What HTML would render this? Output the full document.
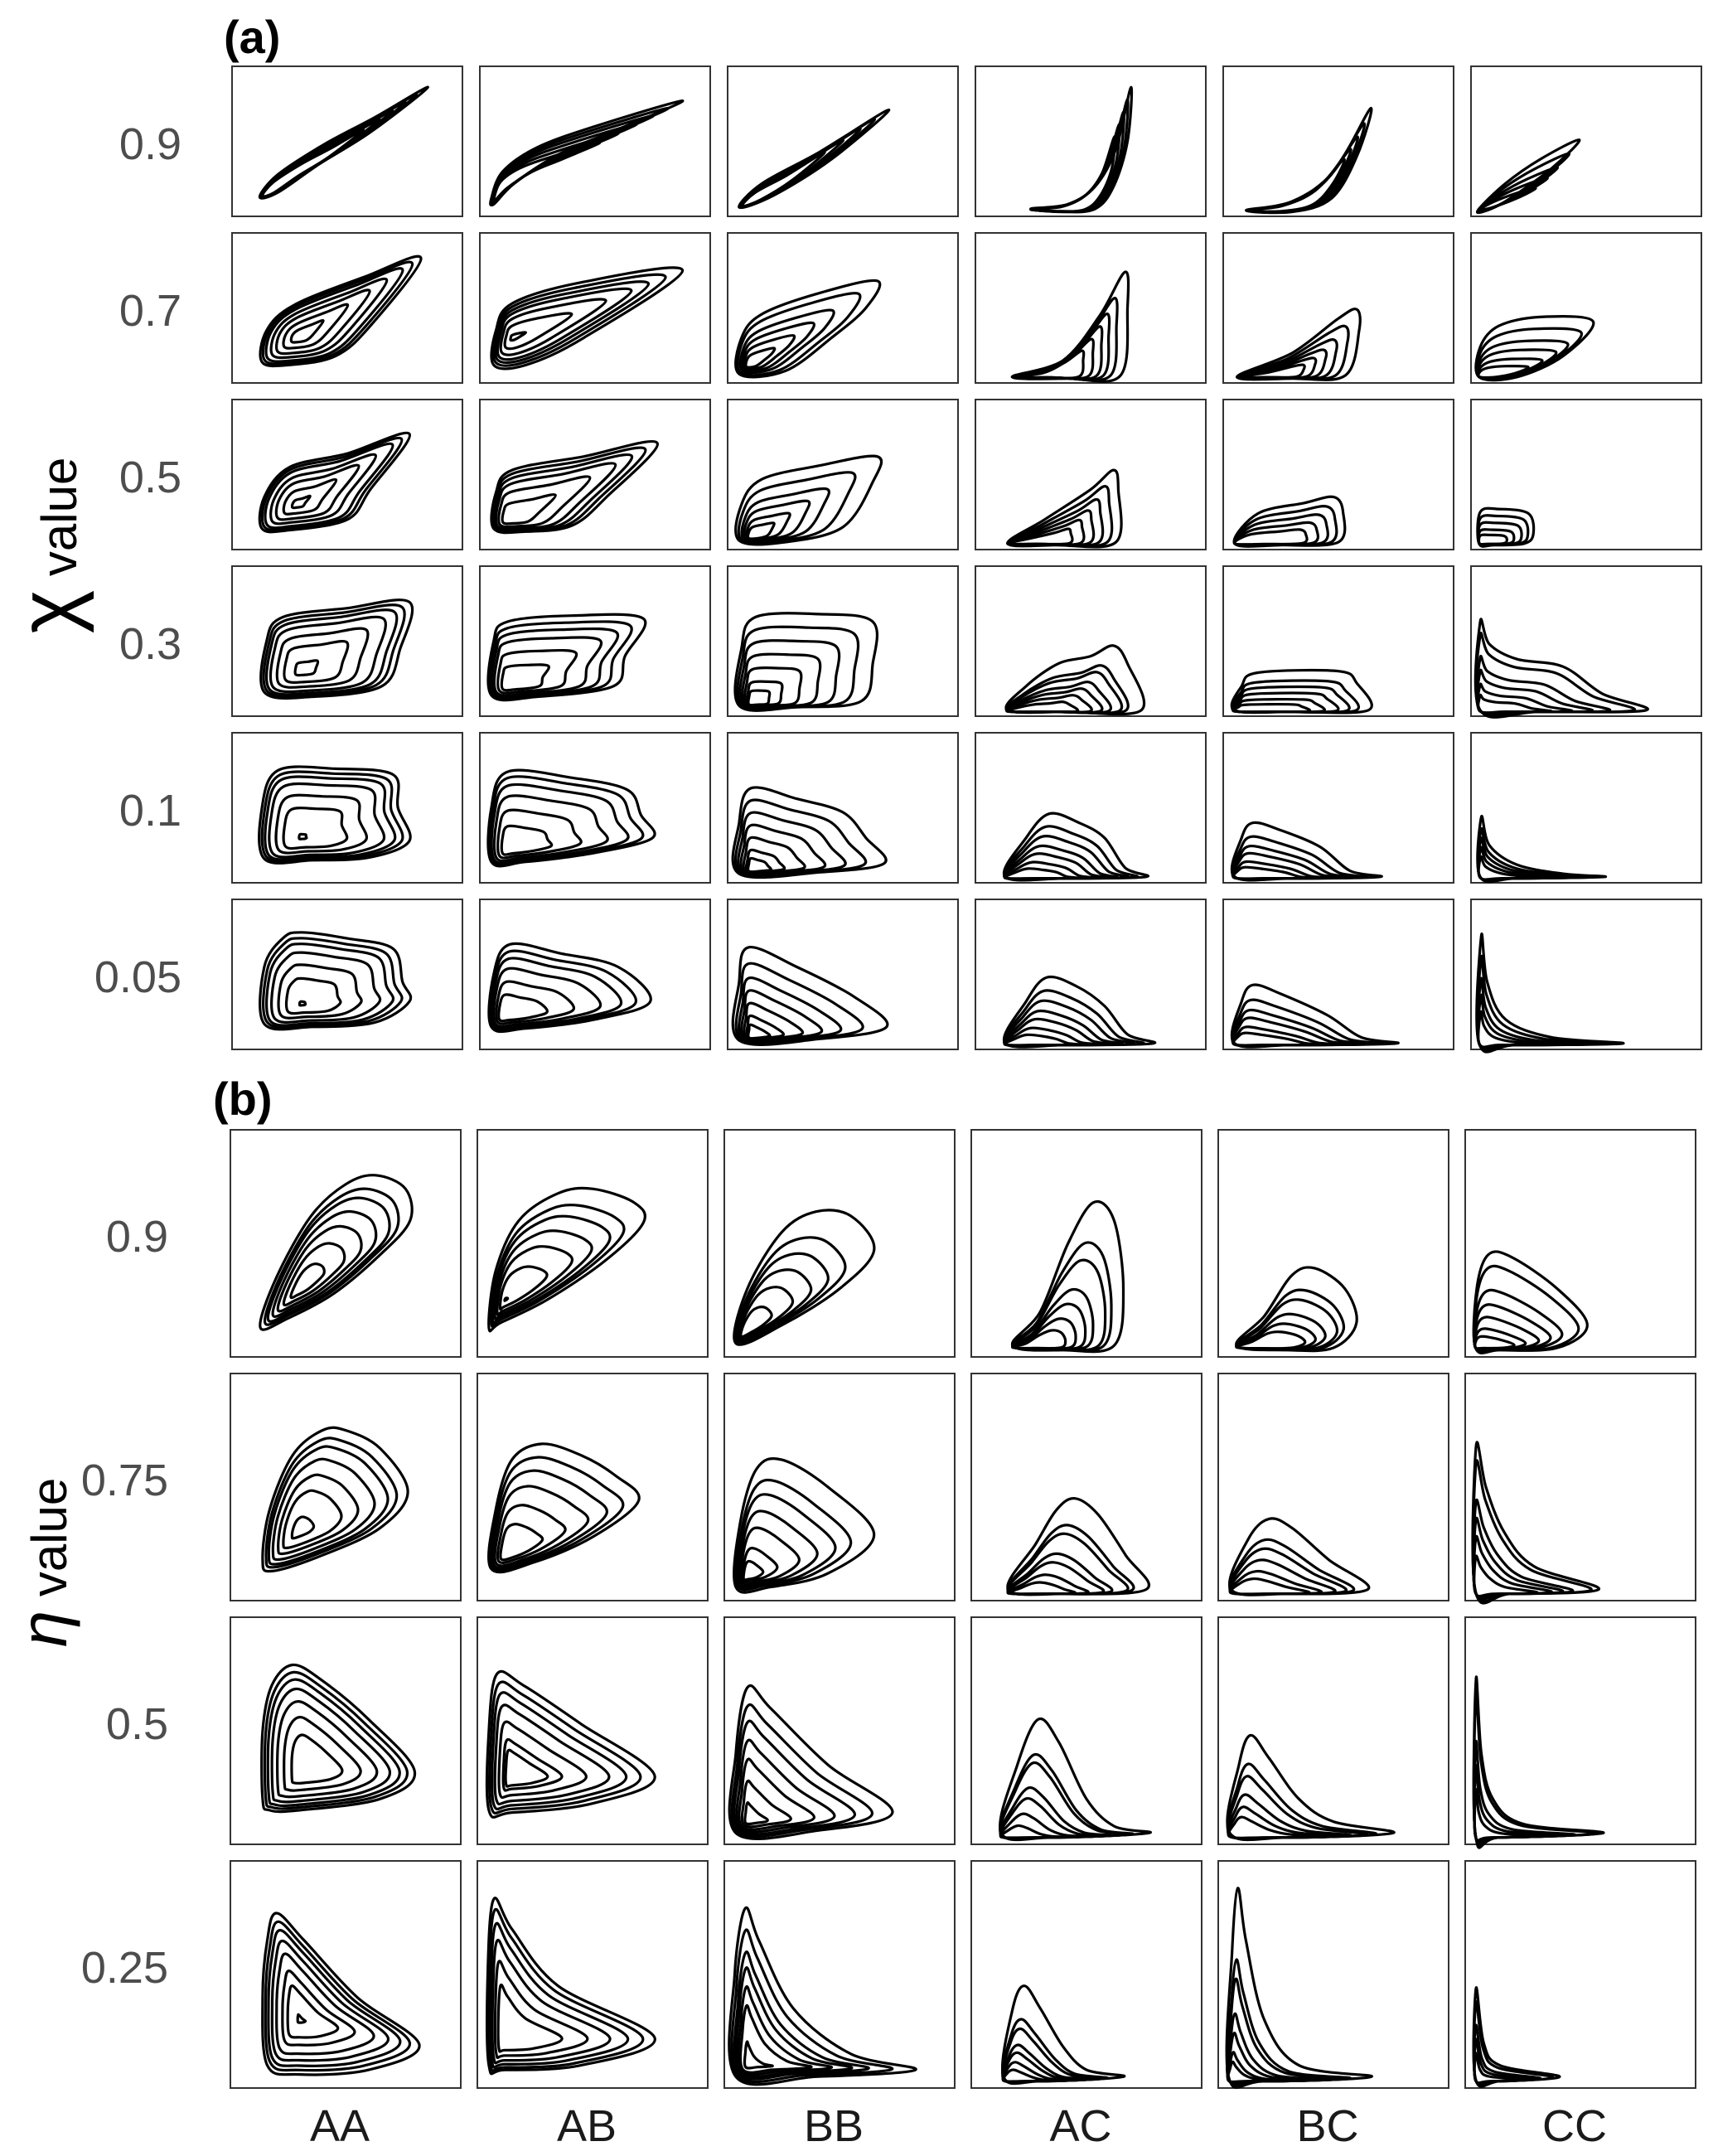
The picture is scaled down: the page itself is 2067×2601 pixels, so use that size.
<!DOCTYPE html>
<html><head><meta charset="utf-8"><style>
html,body{margin:0;padding:0;background:#fff;}
svg{display:block;}
</style></head><body>
<svg id="fig" width="2067" height="2601" viewBox="0 0 2067 2601" xmlns="http://www.w3.org/2000/svg" font-family="Liberation Sans, sans-serif">
<rect width="2067" height="2601" fill="#fff"/>
<text x="270" y="64" font-size="56" font-weight="bold" fill="#000">(a)</text>
<text x="257" y="1345" font-size="56" font-weight="bold" fill="#000">(b)</text>
<text transform="translate(92,658) rotate(-90)" text-anchor="middle" fill="#000"><tspan font-size="100">χ</tspan><tspan font-size="60"> value</tspan></text>
<text transform="translate(80,1885) rotate(-90)" text-anchor="middle" fill="#000"><tspan font-size="80" font-style="italic">η</tspan><tspan font-size="60"> value</tspan></text>
<g id="g"></g>
</svg>
<script>
const colLabels = ["AA","AB","BB","AC","BC","CC"];
const chiLabels = ["0.9","0.7","0.5","0.3","0.1","0.05"];
const etaLabels = ["0.9","0.75","0.5","0.25"];

// Panel (a) shapes: outer loop points (u,v normalized), anchor, nested scales
const a09 = [
 {p:[[.12,.13],[.2,.28],[.4,.48],[.62,.66],[.85,.86],[.6,.56],[.38,.35],[.2,.16]],c:[.15,.15],s:[1,.93,.86,.78,.7,.6]},
 {p:[[.05,.12],[.1,.3],[.25,.46],[.5,.6],[.88,.77],[.6,.58],[.35,.42],[.15,.22],[.06,.08]],c:[.08,.15],s:[1,.92,.84,.75,.65,.55]},
 {p:[[.05,.06],[.15,.22],[.4,.43],[.7,.71],[.45,.38],[.2,.14]],c:[.08,.08],s:[1,.9,.8,.68,.55]},
 {p:[[.24,.05],[.4,.08],[.52,.2],[.61,.45],[.675,.86],[.66,.5],[.6,.2],[.52,.05],[.38,.03]],c:[.24,.04],s:[1,.9,.8,.7,.6]},
 {p:[[.1,.04],[.3,.1],[.48,.3],[.64,.72],[.58,.4],[.47,.12],[.3,.03]],c:[.1,.04],s:[1,.85,.72,.6,.5]},
 {p:[[.035,.05],[.15,.22],[.3,.38],[.47,.51],[.35,.32],[.15,.1],[.05,.03]],c:[.05,.05],s:[1,.8,.6,.45,.3]}
];
const a07 = [
 {p:[[.13,.14],[.15,.35],[.27,.52],[.58,.71],[.82,.83],[.6,.38],[.45,.18],[.25,.12]],c:[.29,.31],s:[1,.93,.85,.72,.58,.4,.2]},
 {p:[[.06,.12],[.07,.35],[.14,.53],[.44,.67],[.88,.75],[.45,.3],[.2,.12]],c:[.14,.3],s:[1,.9,.8,.7,.55,.35,.08]},
 {p:[[.05,.06],[.06,.3],[.15,.46],[.4,.6],[.65,.68],[.6,.5],[.45,.3],[.25,.08]],c:[.09,.12],s:[1,.85,.65,.5,.35,.2]},
 {p:[[.16,.04],[.38,.15],[.54,.45],[.65,.74],[.66,.5],[.63,.05],[.4,.03]],c:[.16,.04],s:[1,.75,.6,.48,.36,.25]},
 {p:[[.06,.04],[.3,.2],[.5,.43],[.58,.49],[.59,.35],[.53,.05],[.3,.03]],c:[.06,.04],s:[1,.75,.55,.4,.28,.18]},
 {p:[[.035,.04],[.04,.24],[.12,.38],[.3,.44],[.53,.41],[.4,.18],[.2,.04]],c:[.04,.04],s:[1,.8,.6,.45,.3,.18]}
];
const a05 = [
 {p:[[.13,.14],[.14,.35],[.25,.55],[.5,.64],[.77,.77],[.6,.4],[.5,.2],[.25,.13]],c:[.28,.3],s:[1,.93,.85,.7,.55,.35,.12]},
 {p:[[.06,.14],[.07,.38],[.14,.53],[.45,.62],[.77,.71],[.55,.35],[.4,.16],[.2,.12]],c:[.12,.2],s:[1,.92,.83,.72,.55,.32]},
 {p:[[.05,.06],[.06,.3],[.15,.47],[.4,.56],[.65,.62],[.63,.45],[.5,.15],[.25,.05]],c:[.1,.08],s:[1,.8,.6,.45,.3,.18]},
 {p:[[.14,.04],[.3,.2],[.5,.4],[.6,.53],[.62,.4],[.61,.05],[.35,.03]],c:[.14,.04],s:[1,.78,.6,.45,.32,.2]},
 {p:[[.05,.04],[.15,.24],[.35,.31],[.48,.35],[.52,.25],[.5,.05],[.25,.03]],c:[.05,.04],s:[1,.8,.62,.45,.3]},
 {p:[[.035,.04],[.04,.25],[.12,.27],[.25,.24],[.27,.1],[.23,.04],[.1,.03]],c:[.04,.04],s:[1,.8,.6,.4,.25]}
];
const a03 = [
 {p:[[.14,.16],[.15,.5],[.22,.66],[.5,.72],[.77,.76],[.73,.45],[.65,.2],[.35,.13]],c:[.3,.3],s:[1,.93,.86,.76,.6,.42,.15]},
 {p:[[.05,.14],[.06,.5],[.12,.63],[.4,.67],[.71,.65],[.63,.4],[.58,.2],[.25,.13]],c:[.12,.2],s:[1,.9,.8,.68,.5,.3]},
 {p:[[.05,.07],[.06,.45],[.12,.66],[.4,.68],[.63,.63],[.63,.35],[.58,.1],[.3,.06]],c:[.1,.08],s:[1,.85,.7,.55,.4,.25,.15]},
 {p:[[.14,.04],[.22,.2],[.36,.35],[.5,.4],[.6,.47],[.66,.35],[.72,.04],[.4,.03]],c:[.14,.03],s:[1,.7,.6,.45,.35,.25,.15]},
 {p:[[.05,.04],[.08,.2],[.15,.29],[.5,.3],[.58,.22],[.63,.04],[.3,.03]],c:[.05,.03],s:[1,.75,.6,.45,.3,.18]},
 {p:[[.04,.04],[.04,.63],[.08,.48],[.2,.38],[.4,.33],[.57,.15],[.76,.04],[.3,.03]],c:[.04,.03],s:[1,.85,.6,.45,.3,.18]}
];
const a01 = [
 {p:[[.14,.16],[.13,.5],[.2,.75],[.45,.76],[.7,.72],[.72,.5],[.77,.28],[.6,.17],[.35,.15]],c:[.3,.3],s:[1,.93,.86,.76,.6,.42,.05]},
 {p:[[.05,.14],[.05,.5],[.12,.74],[.4,.7],[.64,.62],[.7,.45],[.75,.3],[.5,.2],[.2,.14]],c:[.12,.22],s:[1,.92,.82,.68,.5,.3]},
 {p:[[.05,.06],[.05,.4],[.1,.63],[.3,.56],[.5,.47],[.6,.3],[.68,.13],[.4,.07]],c:[.1,.08],s:[1,.85,.7,.55,.4,.25,.15]},
 {p:[[.13,.04],[.22,.3],[.32,.46],[.45,.4],[.56,.3],[.65,.1],[.74,.04],[.4,.03]],c:[.13,.03],s:[1,.8,.65,.5,.38,.25,.15]},
 {p:[[.05,.04],[.08,.3],[.13,.4],[.25,.35],[.42,.24],[.55,.08],[.68,.04],[.3,.03]],c:[.05,.03],s:[1,.75,.58,.45,.3,.2]},
 {p:[[.04,.04],[.045,.44],[.08,.25],[.2,.12],[.4,.06],[.58,.04],[.2,.03]],c:[.04,.03],s:[1,.8,.65,.5,.35]}
];
const a005 = [
 {p:[[.14,.17],[.14,.55],[.22,.74],[.3,.78],[.5,.74],[.7,.67],[.74,.45],[.77,.32],[.62,.18],[.35,.15]],c:[.3,.3],s:[1,.92,.84,.72,.55,.36,.04]},
 {p:[[.05,.15],[.06,.5],[.13,.7],[.35,.64],[.6,.55],[.74,.32],[.5,.2],[.2,.14]],c:[.1,.22],s:[1,.9,.8,.66,.48,.3]},
 {p:[[.05,.06],[.05,.45],[.09,.68],[.3,.55],[.55,.35],[.69,.15],[.4,.07]],c:[.1,.08],s:[1,.82,.66,.52,.38,.24,.14]},
 {p:[[.13,.04],[.22,.32],[.31,.48],[.44,.42],[.56,.29],[.66,.1],[.77,.04],[.4,.03]],c:[.13,.03],s:[1,.8,.65,.5,.38,.25,.15]},
 {p:[[.05,.04],[.08,.32],[.13,.43],[.25,.37],[.45,.23],[.6,.08],[.75,.04],[.3,.03]],c:[.05,.03],s:[1,.75,.58,.45,.3,.2]},
 {p:[[.035,.04],[.045,.76],[.07,.45],[.15,.2],[.35,.08],[.66,.04],[.2,.03]],c:[.04,.03],s:[1,.8,.6,.45,.3]}
];
// Panel (b) shapes
const b09 = [
 {p:[[.13,.13],[.2,.35],[.35,.62],[.5,.76],[.63,.8],[.76,.74],[.78,.6],[.65,.45],[.45,.28],[.25,.17]],c:[.3,.3],s:[1,.88,.8,.68,.55,.4,.22]},
 {p:[[.05,.13],[.08,.38],[.18,.6],[.35,.72],[.5,.74],[.68,.68],[.72,.59],[.55,.42],[.3,.25],[.1,.15]],c:[.12,.25],s:[1,.85,.75,.62,.48,.3,.02]},
 {p:[[.05,.06],[.1,.3],[.25,.55],[.4,.64],[.55,.62],[.65,.47],[.5,.3],[.25,.14]],c:[.08,.1],s:[1,.78,.65,.52,.38,.22]},
 {p:[[.18,.05],[.3,.2],[.42,.5],[.53,.68],[.62,.6],[.66,.3],[.62,.05],[.4,.03]],c:[.18,.04],s:[1,.72,.6,.4,.3,.2,.12]},
 {p:[[.08,.05],[.2,.18],[.32,.36],[.42,.39],[.55,.3],[.6,.15],[.5,.04],[.3,.03]],c:[.08,.04],s:[1,.72,.6,.42,.3,.2]},
 {p:[[.045,.04],[.05,.3],[.1,.45],[.2,.44],[.4,.3],[.53,.14],[.4,.04],[.15,.03]],c:[.045,.04],s:[1,.85,.6,.45,.32,.2,.12]}
];
const b075 = [
 {p:[[.14,.18],[.17,.4],[.27,.64],[.4,.75],[.5,.75],[.65,.67],[.77,.48],[.65,.32],[.4,.2],[.18,.13]],c:[.29,.3],s:[1,.9,.82,.7,.55,.4,.15]},
 {p:[[.06,.14],[.08,.4],[.15,.62],[.28,.69],[.45,.64],[.6,.55],[.7,.44],[.5,.28],[.25,.17]],c:[.12,.2],s:[1,.88,.76,.62,.45,.28]},
 {p:[[.05,.06],[.07,.35],[.14,.58],[.25,.62],[.45,.5],[.65,.29],[.45,.12],[.2,.06]],c:[.09,.1],s:[1,.82,.7,.56,.42,.25,.14]},
 {p:[[.16,.05],[.28,.25],[.37,.4],[.45,.45],[.55,.38],[.67,.2],[.76,.05],[.4,.03]],c:[.16,.03],s:[1,.72,.63,.42,.33,.2,.12]},
 {p:[[.055,.05],[.13,.27],[.22,.36],[.32,.32],[.48,.18],[.65,.05],[.3,.03]],c:[.055,.03],s:[1,.72,.6,.45,.3,.2]},
 {p:[[.045,.04],[.047,.68],[.09,.5],[.17,.3],[.3,.15],[.58,.05],[.2,.03]],c:[.045,.03],s:[1,.88,.62,.5,.38,.25]}
];
const b05 = [
 {p:[[.14,.2],[.14,.5],[.18,.7],[.27,.79],[.4,.72],[.6,.55],[.8,.32],[.65,.2],[.3,.15],[.17,.15]],c:[.33,.33],s:[1,.93,.86,.77,.65,.5,.33]},
 {p:[[.05,.15],[.05,.5],[.085,.75],[.2,.7],[.45,.53],[.77,.3],[.5,.18],[.15,.14]],c:[.15,.3],s:[1,.9,.8,.68,.52,.35,.25]},
 {p:[[.05,.05],[.05,.4],[.1,.69],[.2,.6],[.45,.35],[.73,.14],[.4,.06]],c:[.1,.1],s:[1,.86,.74,.6,.46,.3,.14]},
 {p:[[.13,.05],[.2,.35],[.29,.55],[.38,.45],[.5,.2],[.62,.08],[.77,.05],[.35,.03]],c:[.13,.03],s:[1,.7,.63,.42,.33,.2,.1]},
 {p:[[.05,.05],[.09,.35],[.14,.48],[.22,.38],[.35,.2],[.5,.1],[.76,.05],[.3,.03]],c:[.05,.03],s:[1,.72,.6,.42,.3,.2]},
 {p:[[.045,.04],[.047,.73],[.07,.4],[.12,.2],[.25,.09],[.6,.05],[.15,.03]],c:[.045,.03],s:[1,.9,.6,.45,.3]}
];
const b025 = [
 {p:[[.16,.1],[.14,.4],[.16,.65],[.2,.77],[.32,.65],[.55,.4],[.82,.19],[.6,.08],[.3,.06]],c:[.3,.3],s:[1,.92,.84,.74,.62,.46,.32,.05]},
 {p:[[.05,.1],[.045,.5],[.07,.83],[.15,.7],[.35,.45],[.77,.22],[.45,.1],[.12,.08]],c:[.12,.22],s:[1,.92,.82,.7,.55,.38]},
 {p:[[.05,.05],[.045,.5],[.09,.79],[.15,.65],[.3,.35],[.55,.15],[.83,.08],[.4,.05]],c:[.1,.1],s:[1,.86,.72,.62,.5,.38,.15]},
 {p:[[.14,.05],[.18,.35],[.23,.45],[.3,.35],[.4,.18],[.5,.08],[.66,.05],[.3,.03]],c:[.14,.03],s:[1,.65,.55,.38,.3,.2,.12]},
 {p:[[.045,.05],[.06,.6],[.085,.88],[.12,.65],[.2,.3],[.35,.1],[.665,.05],[.2,.03]],c:[.045,.03],s:[1,.63,.53,.35,.25,.15,.1]},
 {p:[[.045,.04],[.047,.44],[.08,.2],[.15,.1],[.41,.05],[.15,.03]],c:[.045,.03],s:[1,.85,.6,.45,.3]}
];
const rowsA = [a09,a07,a05,a03,a01,a005];
const rowsB = [b09,b075,b05,b025];
// horizontal shrink exponent per column (inner loops flatten more than they shorten)
const colShrinkExp = [1,1,1,0.35,0.35,0.5];

const NS="http://www.w3.org/2000/svg";
const G=document.getElementById('g');
function mk(tag,attrs){const e=document.createElementNS(NS,tag);for(const k in attrs)e.setAttribute(k,attrs[k]);return e;}
function closedSpline(pts){
  const n=pts.length;let d=`M${pts[0][0].toFixed(1)},${pts[0][1].toFixed(1)}`;
  for(let i=0;i<n;i++){
    const p0=pts[(i-1+n)%n],p1=pts[i],p2=pts[(i+1)%n],p3=pts[(i+2)%n];
    const c1=[p1[0]+(p2[0]-p0[0])/6,p1[1]+(p2[1]-p0[1])/6];
    const c2=[p2[0]-(p3[0]-p1[0])/6,p2[1]-(p3[1]-p1[1])/6];
    d+=`C${c1[0].toFixed(1)},${c1[1].toFixed(1)} ${c2[0].toFixed(1)},${c2[1].toFixed(1)} ${p2[0].toFixed(1)},${p2[1].toFixed(1)}`;
  }
  return d+'Z';
}
function drawPanel(shape,x0,y0,w,h,name,ex){
  const g=mk('g',{});
  
  
  const box=mk('rect',{x:x0,y:y0,width:w,height:h,fill:'none',stroke:'#333','stroke-width':2});
  
  
  g.appendChild(box);
  const sx=u=>x0+u*w, sy=v=>y0+(1-v)*h;
  shape.s.forEach((k,i)=>{
    const kx=Math.pow(k,ex);
    const pts=shape.p.map(q=>[sx(shape.c[0]+kx*(q[0]-shape.c[0])),sy(shape.c[1]+k*(q[1]-shape.c[1]))]);
    const path=mk('path',{d:closedSpline(pts),fill:'none',stroke:'#000','stroke-width':3.2,'stroke-linejoin':'round'});
    
    
    g.appendChild(path);
  });
  G.appendChild(g);
}
function label(txt,x,y,size,anchor,fill,name){
  const t=mk('text',{x:x,y:y,'font-size':size,'text-anchor':anchor,fill:fill});
  t.textContent=txt;
  
  
  G.appendChild(t);
}
rowsA.forEach((row,r)=>{
  const top=80+201*r;
  row.forEach((sh,c)=>drawPanel(sh,280+299*c,top,278,181,'panel-a-'+colLabels[c]+'-'+chiLabels[r],colShrinkExp[c]));
  label(chiLabels[r],219,top+90+22,54,'end','#4d4d4d','chi-row-label');
});
rowsB.forEach((row,r)=>{
  const top=1363+294*r;
  row.forEach((sh,c)=>drawPanel(sh,278+298*c,top,278,274,'panel-b-'+colLabels[c]+'-'+etaLabels[r],colShrinkExp[c]));
  label(etaLabels[r],203,top+137+10,54,'end','#4d4d4d','eta-row-label');
});
colLabels.forEach((t,c)=>label(t,278+298*c+132,2583,54,'middle','#1a1a1a','column-label'));
</script>
</body></html>
